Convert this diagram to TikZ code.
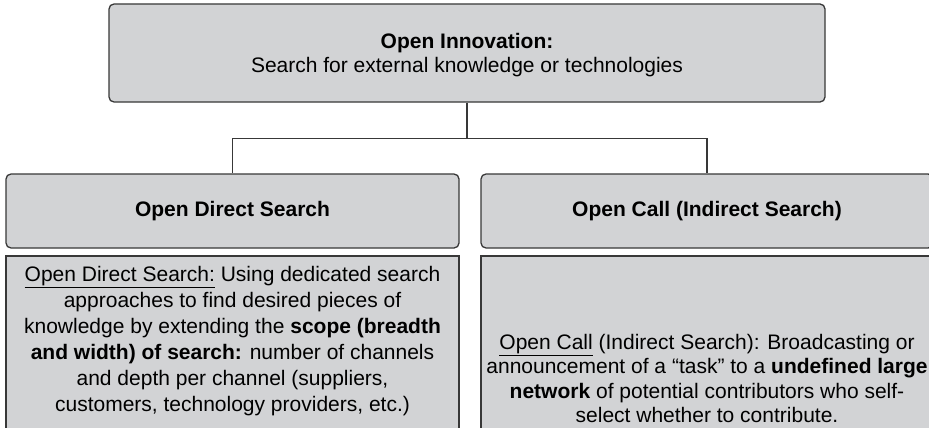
\documentclass[tikz,border=0pt]{standalone}
\usepackage{fontspec}
\setmainfont{Liberation Sans}
\definecolor{boxfill}{HTML}{D2D3D5}
\definecolor{boxline}{HTML}{383838}
\begin{document}
\begin{tikzpicture}[x=1pt,y=1pt,
  panel/.style={draw=boxline, fill=boxfill, line width=1.3pt, inner sep=0pt},
  rpanel/.style={panel, rounded corners=5pt},
  txt/.style={align=center, inner sep=0pt, font=\fontsize{21}{26}\selectfont},
  link/.style={draw=boxline, line width=1.3pt}]
\useasboundingbox (0,0) rectangle (929,-428);

% top box
\node[rpanel, minimum width=716, minimum height=98] (oi) at (467,-53) {};
\node[txt, font=\fontsize{21}{24}\selectfont] (oitext) at (467,-55)
  {\textbf{Open Innovation:}\\Search for external knowledge or technologies};

% headline boxes
\node[rpanel, minimum width=453, minimum height=74] (ods) at (232.5,-211) {};
\node[txt] (odstext) at (ods.center) {\textbf{Open Direct Search}};
\node[rpanel, minimum width=452, minimum height=74] (oc) at (707,-211) {};
\node[txt] (octext) at (oc.center) {\textbf{Open Call (Indirect Search)}};

% description boxes
\node[panel, minimum width=453, minimum height=184] (dbox) at (232.5,-348) {};
\node[txt] (dtext) at (232.5,-341.5)
  {\underline{Open Direct Search:} Using dedicated search\\
   approaches to find desired pieces of\\
   knowledge by extending the \textbf{scope (breadth}\\
   \textbf{and width) of search:} number of channels\\
   and depth per channel (suppliers,\\
   customers, technology providers, etc.)};
\node[panel, minimum width=452, minimum height=184] (cbox) at (707,-348) {};
\node[txt, font=\fontsize{21}{24.5}\selectfont] (ctext) at (707,-378.5)
  {\underline{Open Call} (Indirect Search): Broadcasting or\\
   announcement of a “task” to a \textbf{undefined large}\\
   \textbf{network} of potential contributors who self-\\
   select whether to contribute.};

% tree connectors
\draw[link] (oi.south) -- ++(0,-36) coordinate (fork);
\draw[link] (fork) -| (ods.north);
\draw[link] (fork) -| (oc.north);
\end{tikzpicture}
\end{document}
